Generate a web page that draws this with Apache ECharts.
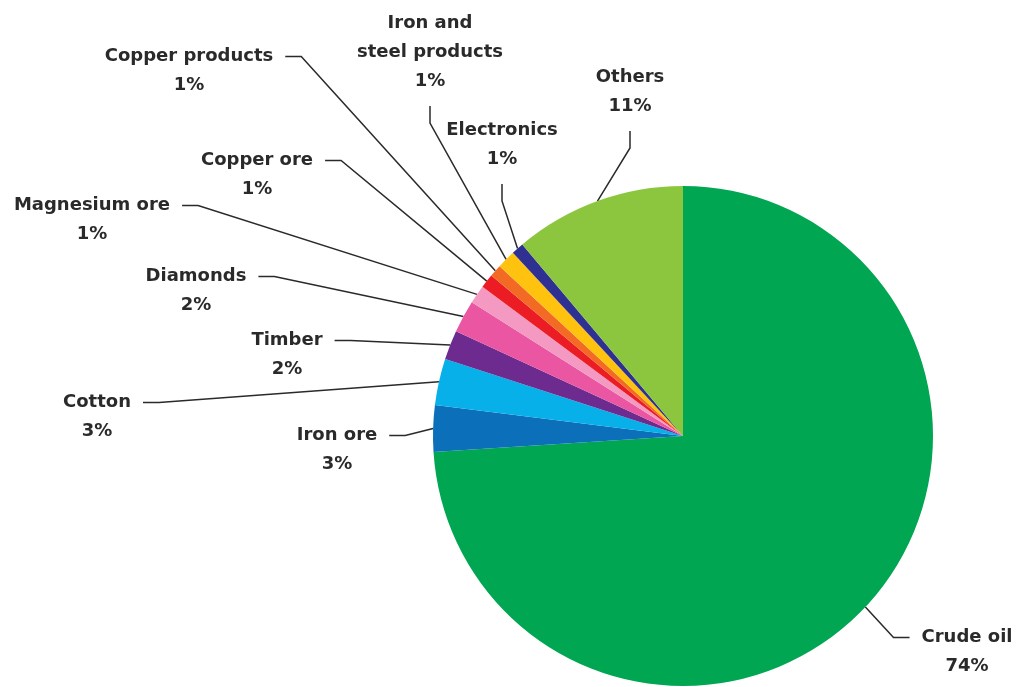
<!DOCTYPE html>
<html>
<head>
<meta charset="utf-8">
<script src="https://cdn.jsdelivr.net/npm/echarts@6/dist/echarts.min.js"></script>
<style>
html,body{margin:0;padding:0;background:#fff;}
#chart{width:1018px;height:687px;}
</style>
</head>
<body>
<div id="chart"></div>
<script>
// Data (share of exports, %)
const categories = ['Crude oil', 'Iron ore', 'Cotton', 'Timber', 'Diamonds', 'Magnesium ore',
  'Copper ore', 'Copper products', 'Iron and\nsteel products', 'Electronics', 'Others'];
const values = [73.9, 3.0, 3.0, 1.9, 2.1, 1.2, 0.9, 0.8, 1.2, 0.8, 11.1];
const colors = ['#00a651', '#0b6fba', '#08b0ea', '#6d2b8f', '#ea56a2', '#f49ac2',
  '#ec1c24', '#f26a24', '#ffc20e', '#2e3192', '#8cc63f'];

// Label layout: [centre x, top of first text line, attach below?]
const labelPos = [
  [967, 623, false],
  [337, 421, false],
  [97, 388, false],
  [287, 326, false],
  [196, 262, false],
  [92, 191, false],
  [257, 146, false],
  [189, 42, false],
  [430, 9, true],
  [502, 116, true],
  [630, 63, true]
];

const LH = 29;
const sidePad = [LH, 12, 0, 12];
const belowPad = [0, 0, 10, 0];

const data = categories.map((name, i) => {
  const below = labelPos[i][2];
  return {
    name: name,
    value: values[i],
    itemStyle: { color: colors[i] },
    label: { padding: below ? belowPad : sidePad },
    labelLine: { length2: below ? 17 : 16 }
  };
});

const chart = echarts.init(document.getElementById('chart'), null, { renderer: 'canvas' });
chart.setOption({
  backgroundColor: '#ffffff',
  animation: false,
  series: [{
    type: 'pie',
    center: [683, 436],
    radius: 250,
    startAngle: 90,
    clockwise: true,
    avoidLabelOverlap: false,
    data: data,
    label: {
      show: true,
      position: 'outside',
      formatter: p => p.name + '\n' + Math.round(p.value) + '%',
      fontFamily: 'DejaVu Sans',
      fontWeight: 'bold',
      fontSize: 18,
      lineHeight: LH,
      color: '#2a2a2a',
      align: 'center',
      backgroundColor: 'rgba(255,255,255,0)'
    },
    labelLine: {
      show: true,
      length: 10,
      length2: 16,
      lineStyle: { color: '#2a2a2a', width: 1.5 }
    },
    labelLayout: function (params) {
      const pos = labelPos[params.dataIndex];
      const below = pos[2];
      const padTop = below ? belowPad[0] : sidePad[0];
      return {
        x: pos[0],
        y: pos[1] - padTop,
        align: 'center',
        verticalAlign: 'top'
      };
    },
    emphasis: { disabled: true }
  }]
});
</script>
</body>
</html>
